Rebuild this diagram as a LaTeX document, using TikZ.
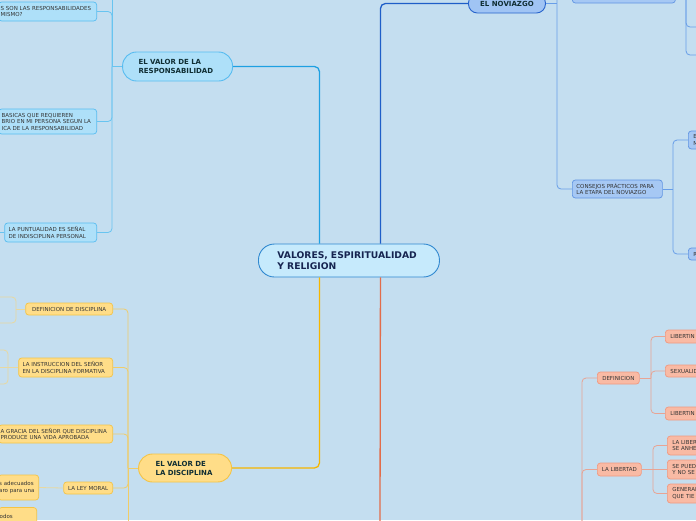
\documentclass[tikz,border=0pt]{standalone}
\usepackage{fontspec}
\setmainfont{DejaVu Sans}
\definecolor{bg}{RGB}{196,222,240}
\definecolor{centrefill}{RGB}{198,234,252}
\definecolor{centreedge}{RGB}{48,136,208}
\definecolor{centretext}{RGB}{22,36,80}
\definecolor{headtext}{RGB}{16,46,52}
\definecolor{respline}{RGB}{30,160,226}
\definecolor{respsub}{RGB}{104,196,240}
\definecolor{respfill}{RGB}{174,224,249}
\definecolor{respedge}{RGB}{88,188,240}
\definecolor{discline}{RGB}{246,182,0}
\definecolor{discsub}{RGB}{240,204,104}
\definecolor{discpale}{RGB}{232,216,160}
\definecolor{discfill}{RGB}{255,221,136}
\definecolor{discedge}{RGB}{244,196,70}
\definecolor{novline}{RGB}{30,94,200}
\definecolor{novsub}{RGB}{104,158,232}
\definecolor{novfill}{RGB}{160,196,244}
\definecolor{novedge}{RGB}{40,100,204}
\definecolor{novboxfill}{RGB}{166,200,244}
\definecolor{novboxedge}{RGB}{96,148,226}
\definecolor{redline}{RGB}{226,108,74}
\definecolor{redsub}{RGB}{232,164,148}
\definecolor{redfill}{RGB}{249,186,164}
\definecolor{rededge}{RGB}{240,152,128}
\begin{document}
\begin{tikzpicture}[x=1pt,y=-1pt,
  small/.style={font=\fontsize{5.5}{6.5}\selectfont, text=black!80},
  heading/.style={font=\fontsize{7}{9}\selectfont\bfseries, text=headtext},
  centre/.style={draw=centreedge, fill=centrefill, line width=0.9pt, rounded corners=16pt,
    inner ysep=0pt, align=left, font=\fontsize{9.2}{11}\selectfont\bfseries, text=centretext},
  rhead/.style={draw=respedge, fill=respfill, line width=0.9pt, rounded corners=14pt, inner ysep=0pt, align=left, heading},
  rbox/.style={draw=respedge, fill=respfill, line width=0.7pt, rounded corners=3pt, inner ysep=0pt, align=left, small},
  dhead/.style={draw=discedge, fill=discfill, line width=0.9pt, rounded corners=14pt, inner ysep=0pt, align=left, heading},
  dbox/.style={draw=discedge, fill=discfill, line width=0.7pt, rounded corners=3pt, inner ysep=0pt, align=left, small},
  nhead/.style={draw=novedge, fill=novfill, line width=0.9pt, rounded corners=9pt, inner ysep=0pt, heading},
  nbox/.style={draw=novboxedge, fill=novboxfill, line width=0.7pt, rounded corners=3pt, inner ysep=0pt, align=left, small},
  lbox/.style={draw=rededge, fill=redfill, line width=0.7pt, rounded corners=3pt, inner ysep=0pt, align=left, small},
  rmain/.style={respline, line width=1.3pt, rounded corners=5pt},
  rsub/.style={respsub, line width=0.8pt, rounded corners=4pt},
  dmain/.style={discline, line width=1.3pt, rounded corners=5pt},
  dsub/.style={discsub, line width=0.8pt, rounded corners=4pt},
  dpale/.style={discpale, line width=0.8pt, rounded corners=4pt},
  nmain/.style={novline, line width=1.3pt, rounded corners=5pt},
  nsub/.style={novsub, line width=0.8pt, rounded corners=4pt},
  lmain/.style={redline, line width=1.3pt},
  lsub/.style={redsub, line width=0.8pt, rounded corners=4pt}]
\path[use as bounding box, fill=bg] (0,0) rectangle (696,520);
\clip (0,0) rectangle (696,520);

% centre
\node[centre, anchor=west, minimum height=33pt, inner xsep=19pt, text width=143pt] (C) at (258,260.5) {VALORES, ESPIRITUALIDAD\\Y RELIGION};

% responsabilidad
\node[rhead, anchor=east, minimum height=29pt, inner xsep=16pt, text width=78pt] (R0) at (233,66.5) {EL VALOR DE LA\\RESPONSABILIDAD};
\node[rbox, anchor=east, minimum height=19pt, inner xsep=2pt, text width=94pt] (R1) at (97,11.5) {S SON LAS RESPONSABILIDADES\\MISMO?};
\node[rbox, anchor=east, minimum height=25pt, inner xsep=3pt, text width=92pt] (R2) at (97,121.5) {BASICAS QUE REQUIEREN\\BRIO EN MI PERSONA SEGUN LA\\ICA DE LA RESPONSABILIDAD};
\node[rbox, anchor=east, minimum height=19pt, inner xsep=4pt, text width=84pt] (R3) at (97,232.5) {LA PUNTUALIDAD ES SEÑAL\\DE INDISCIPLINA PERSONAL};
\coordinate (rj) at (112,66.5);
\coordinate (rtop) at (112,-10);
\coordinate (r3w) at (-5,232.5);
\draw[rmain] ([xshift=-29.5pt]C.north) |- (R0.east);
\draw[rsub] (R0.west) -- (rj);
\draw[rsub] (rj) -- (rtop);
\draw[rsub] (rj) |- (R1.east);
\draw[rsub] (rj) |- (R2.east);
\draw[rsub] (rj) |- (R3.east);
\draw[rsub] (R3.west) -- (r3w);

% disciplina
\node[dhead, anchor=east, minimum height=28pt, inner xsep=17pt, text width=59pt] (D0) at (232,468) {EL VALOR DE\\LA DISCIPLINA};
\node[dbox, anchor=east, minimum height=12pt, minimum width=87pt] (D1) at (113,309) {DEFINICION DE DISCIPLINA};
\node[dbox, anchor=east, minimum height=19pt, inner xsep=4pt, text width=86pt] (D2) at (113,367.5) {LA INSTRUCCION DEL SEÑOR\\EN LA DISCIPLINA FORMATIVA};
\node[dbox, anchor=east, minimum height=18pt, inner xsep=2pt, text width=110pt] (D3) at (113,434) {A GRACIA DEL SEÑOR QUE DISCIPLINA\\PRODUCE UNA VIDA APROBADA};
\node[dbox, anchor=east, minimum height=12pt, minimum width=49pt] (D4) at (113,488) {LA LEY MORAL};
\node[dbox, anchor=east, minimum height=25pt, inner xsep=1pt, text width=38.5pt] (D5) at (39,487.5) {s adecuados\\aro para una};
\node[dbox, anchor=east, minimum height=25pt, inner xsep=1pt, text width=36pt] (D6) at (37,520) {odos\\\mbox{}};
\coordinate (dj) at (128,468);
\coordinate (dbot) at (128,530);
\coordinate (d1j) at (16,309);
\coordinate (d1a) at (-5,297);
\coordinate (d1b) at (-5,323);
\coordinate (d2j) at (8,367.5);
\coordinate (d2a) at (-5,350);
\coordinate (d2b) at (-5,367.5);
\coordinate (d2c) at (-5,384);
\draw[dmain] ([xshift=-29.5pt]C.south) |- (D0.east);
\draw[dsub] (D0.west) -- (dj);
\draw[dsub] (dj) |- (D1.east);
\draw[dsub] (dj) |- (D2.east);
\draw[dsub] (dj) |- (D3.east);
\draw[dsub] (dj) |- (D4.east);
\draw[dsub] (dj) -- (dbot);
\draw[dpale] (D1.west) -- (d1j);
\draw[dpale] (d1j) |- (d1a);
\draw[dpale] (d1j) |- (d1b);
\draw[dpale] (D2.west) -- (d2j);
\draw[dpale] (d2j) |- (d2a);
\draw[dpale] (d2j) -- (d2b);
\draw[dpale] (d2j) |- (d2c);
\draw[dpale] (D4.west) -- (D5.east);

% noviazgo
\node[nhead, anchor=west, minimum height=19pt, minimum width=77pt] (N0) at (468,3.5) {EL NOVIAZGO};
\node[nbox, anchor=west, minimum height=15pt, minimum width=103pt] (N1) at (572,-4.5) {};
\node[nbox, anchor=west, minimum height=18pt, inner xsep=4pt, text width=82pt] (N2) at (572,189) {CONSEJOS PRÁCTICOS PARA\\LA ETAPA DEL NOVIAZGO};
\node[nbox, anchor=west, minimum height=18pt, inner xsep=5pt, text width=60pt] (N3) at (688,140) {E\\M};
\node[nbox, anchor=west, minimum height=12pt, inner xsep=5pt, text width=60pt] (N4) at (688,254) {R};
\coordinate (nj) at (557,3.5);
\coordinate (cj) at (673,189);
\coordinate (n1j) at (686,-4.5);
\coordinate (n5) at (705,27);
\coordinate (n6) at (705,55);
\draw[nmain] ([xshift=31.5pt]C.north) |- (N0.west);
\draw[nsub] (N0.east) -- (nj);
\draw[nsub] (nj) |- (N1.west);
\draw[nsub] (nj) |- (N2.west);
\draw[nsub] (N2.east) -- (cj);
\draw[nsub] (cj) |- (N3.west);
\draw[nsub] (cj) |- (N4.west);
\draw[nsub] (N1.east) -- (n1j);
\draw[nsub] (n1j) |- (n5);
\draw[nsub] (n1j) |- (n6);

% libertad
\node[lbox, anchor=west, minimum height=12pt, minimum width=42pt] (L1) at (597,378) {DEFINICION};
\node[lbox, anchor=west, minimum height=13pt, minimum width=44pt] (L2) at (597,469.5) {LA LIBERTAD};
\node[lbox, anchor=west, minimum height=13pt, inner xsep=5pt, text width=60pt] (L11) at (665,336.5) {LIBERTIN};
\node[lbox, anchor=west, minimum height=12pt, inner xsep=5pt, text width=60pt] (L12) at (665,371) {SEXUALID};
\node[lbox, anchor=west, minimum height=13pt, inner xsep=5pt, text width=60pt] (L13) at (665,413.5) {LIBERTIN};
\node[lbox, anchor=west, minimum height=19pt, inner xsep=5pt, text width=60pt] (L21) at (667,445.5) {LA LIBER\\SE ANHE};
\node[lbox, anchor=west, minimum height=19pt, inner xsep=5pt, text width=60pt] (L22) at (667,469.5) {SE PUED\\Y NO SE};
\node[lbox, anchor=west, minimum height=19pt, inner xsep=5pt, text width=60pt] (L23) at (667,493.5) {GENERAL\\QUE TIE};
\coordinate (redend) at (380,530);
\coordinate (lj) at (582,530);
\coordinate (l1j) at (651,378);
\coordinate (l2j) at (653,469.5);
\draw[lmain] ([xshift=31.5pt]C.south) -- (redend);
\draw[lsub] (lj) |- (L1.west);
\draw[lsub] (lj) |- (L2.west);
\draw[lsub] (L1.east) -- (l1j);
\draw[lsub] (l1j) |- (L11.west);
\draw[lsub] (l1j) |- (L12.west);
\draw[lsub] (l1j) |- (L13.west);
\draw[lsub] (L2.east) -- (l2j);
\draw[lsub] (l2j) |- (L21.west);
\draw[lsub] (l2j) -- (L22.west);
\draw[lsub] (l2j) |- (L23.west);
\end{tikzpicture}
\end{document}
